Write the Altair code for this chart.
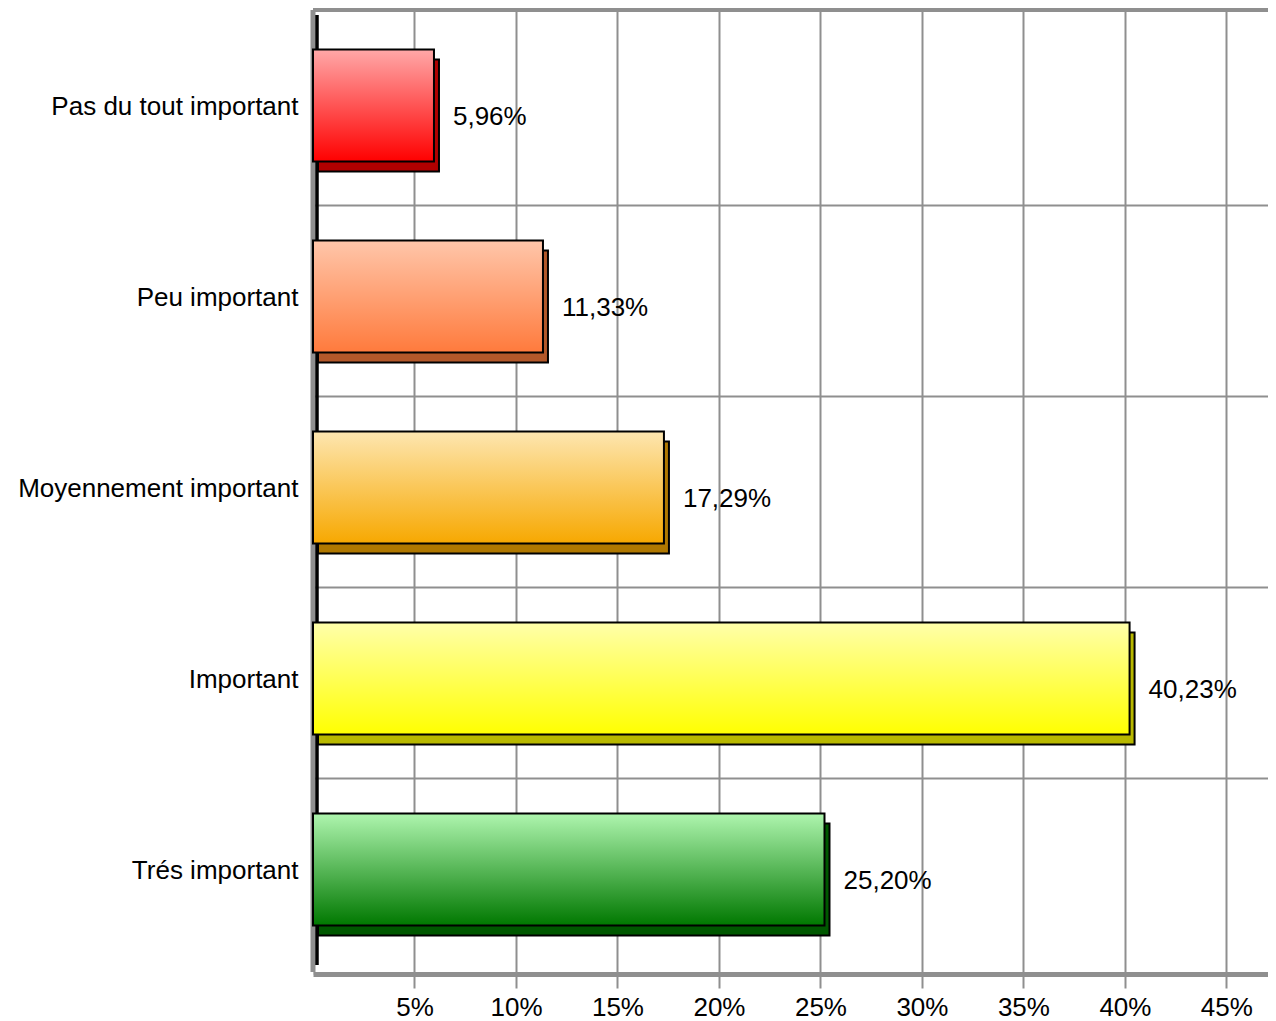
import altair as alt
import pandas as pd

# ---- data ----
categories = ["Pas du tout important", "Peu important", "Moyennement important",
              "Important", "Trés important"]
values = [5.96, 11.33, 17.29, 40.23, 25.20]
tick_values = [5, 10, 15, 20, 25, 30, 35, 40, 45]

# ---- styles ----
top_colors = ["#ffa8a8", "#ffc6aa", "#fde6b0", "#ffffaa", "#aef5ae"]
bottom_colors = ["#ff0000", "#ff7a3c", "#f7a800", "#ffff00", "#007800"]
side_colors = ["#b00000", "#b3582a", "#b07800", "#b8b800", "#005800"]
FONT = "Liberation Sans"
GRID = "#8f8f8f"

df = pd.DataFrame({"cat": categories, "v": values})

x_scale = alt.Scale(domain=[0, 47.05], nice=False, zero=True)
y_scale = alt.Scale(domain=categories, paddingInner=0.4136, paddingOuter=0.2304, align=0.45)

x_axis = alt.Axis(values=tick_values, labelExpr="datum.value + '%'", title=None,
                  grid=True, gridColor=GRID, gridWidth=2,
                  domainColor=GRID, domainWidth=5,
                  tickColor=GRID, tickWidth=2, tickSize=14,
                  labelFontSize=26, labelColor="black", labelPadding=6, labelFont=FONT)
y_axis = alt.Axis(title=None, domain=False, ticks=False, grid=False,
                  labelFontSize=26, labelColor="black", labelPadding=15,
                  labelFont=FONT, labelLimit=0, labelOffset=1)

x_enc = alt.X("v:Q", scale=x_scale, axis=x_axis)
y_enc = alt.Y("cat:N", scale=y_scale, sort=categories, axis=y_axis)

base = alt.Chart(df)
first = base.transform_filter(alt.datum.cat == categories[0]).transform_calculate(zero="0")

# horizontal grid lines between categories
hgrid = base.transform_filter(alt.datum.cat != categories[-1]).mark_rule(
    color=GRID, strokeWidth=2, yOffset=44
).encode(y=alt.Y("cat:N", scale=y_scale, sort=categories, axis=y_axis, bandPosition=1))

# top border
top_border = first.mark_rule(color=GRID, strokeWidth=4).encode(y=alt.value(0))

# left wall
wall_gray = first.mark_rule(color=GRID, strokeWidth=5, xOffset=0).encode(
    x=alt.X("zero:Q", scale=x_scale, axis=x_axis), y=alt.value(0), y2=alt.value(962))
wall_black = first.mark_rule(color="black", strokeWidth=3.5, xOffset=4).encode(
    x=alt.X("zero:Q", scale=x_scale, axis=x_axis), y=alt.value(5), y2=alt.value(955))

# 3D depth (side/bottom faces)
side = base.mark_bar(stroke="black", strokeWidth=2,
                     xOffset=5, x2Offset=5, yOffset=10, y2Offset=10).encode(
    x=x_enc, y=y_enc,
    fill=alt.Fill("cat:N", scale=alt.Scale(domain=categories, range=side_colors), legend=None),
)

fronts = []
for c, t, b in zip(categories, top_colors, bottom_colors):
    grad = alt.Gradient(gradient="linear",
                        stops=[alt.GradientStop(color=t, offset=0),
                               alt.GradientStop(color=b, offset=1)],
                        x1=0, x2=0, y1=0, y2=1)
    fronts.append(
        base.transform_filter(alt.datum.cat == c).mark_bar(
            fill=grad, stroke="black", strokeWidth=2
        ).encode(x=x_enc, y=y_enc)
    )

labels = base.transform_calculate(
    label="replace(format(datum.v, '.2f'), '.', ',') + '%'"
).mark_text(align="left", baseline="middle", dx=19, dy=11,
            fontSize=26, font=FONT, color="black").encode(
    x=x_enc, y=y_enc, text="label:N"
)

chart = alt.layer(hgrid, top_border, wall_gray, wall_black, side, *fronts, labels).properties(
    width=955, height=964,
    padding={"left": 305, "top": 2, "right": 0, "bottom": 46},
    autosize="none",
).configure_view(stroke=None).configure(font=FONT)

chart.save("out.html", embed_options={"renderer": "svg", "actions": False})
